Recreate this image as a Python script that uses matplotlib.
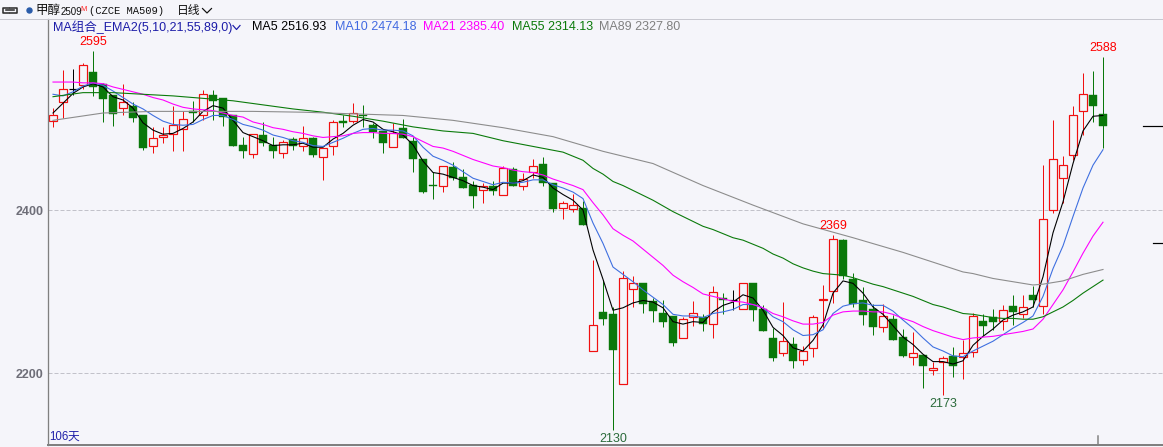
import matplotlib
matplotlib.use("Agg")
import matplotlib.pyplot as plt
import matplotlib.transforms as mtrans
from matplotlib.patches import Rectangle
from matplotlib.lines import Line2D

plt.rcParams['lines.scale_dashes'] = False

# daily bars (106 bars)
opens = [2509, 2532, 2548, 2553, 2569, 2555, 2541, 2525, 2527, 2517,
         2478, 2490, 2493, 2499, 2521, 2516, 2541, 2537, 2517, 2480,
         2469, 2492, 2480, 2470, 2487, 2478, 2488, 2465, 2478, 2509,
         2509, 2517, 2504, 2497, 2477, 2500, 2485, 2463, 2431, 2429,
         2453, 2440, 2431, 2425, 2429, 2419, 2450, 2430, 2447, 2456,
         2433, 2402, 2401, 2402, 2227, 2275, 2272, 2187, 2303, 2311,
         2288, 2274, 2270, 2243, 2269, 2269, 2260, 2292, 2290, 2279,
         2310, 2279, 2243, 2224, 2236, 2216, 2231, 2289, 2301, 2363,
         2315, 2290, 2278, 2256, 2266, 2244, 2220, 2222, 2204, 2214,
         2221, 2220, 2226, 2264, 2269, 2264, 2282, 2273, 2296, 2282,
         2400, 2439, 2468, 2522, 2541, 2518]
highs = [2525, 2572, 2573, 2580, 2595, 2556, 2541, 2555, 2533, 2517,
         2502, 2502, 2527, 2522, 2534, 2547, 2547, 2537, 2517, 2490,
         2493, 2508, 2490, 2486, 2490, 2503, 2490, 2476, 2510, 2517,
         2531, 2529, 2507, 2497, 2507, 2512, 2490, 2463, 2447, 2454,
         2459, 2450, 2435, 2433, 2435, 2454, 2453, 2445, 2462, 2465,
         2433, 2411, 2420, 2411, 2339, 2314, 2281, 2325, 2319, 2311,
         2292, 2290, 2270, 2269, 2288, 2272, 2307, 2298, 2302, 2311,
         2310, 2283, 2255, 2287, 2244, 2233, 2271, 2308, 2369, 2364,
         2323, 2305, 2285, 2285, 2271, 2254, 2250, 2222, 2214, 2221,
         2232, 2240, 2274, 2273, 2279, 2283, 2296, 2296, 2307, 2455,
         2510, 2466, 2527, 2568, 2571, 2588]
lows = [2502, 2513, 2541, 2548, 2540, 2508, 2503, 2517, 2508, 2474,
        2470, 2482, 2472, 2472, 2508, 2510, 2510, 2503, 2478, 2464,
        2464, 2478, 2464, 2464, 2474, 2472, 2465, 2437, 2467, 2502,
        2507, 2502, 2488, 2470, 2477, 2488, 2447, 2421, 2414, 2422,
        2437, 2427, 2402, 2409, 2419, 2419, 2430, 2424, 2439, 2429,
        2397, 2389, 2398, 2382, 2227, 2259, 2130, 2187, 2281, 2274,
        2263, 2257, 2233, 2243, 2258, 2252, 2243, 2273, 2277, 2279,
        2264, 2251, 2215, 2221, 2206, 2210, 2220, 2255, 2286, 2315,
        2281, 2259, 2247, 2250, 2240, 2220, 2210, 2181, 2197, 2173,
        2195, 2193, 2220, 2245, 2253, 2253, 2259, 2267, 2281, 2273,
        2396, 2408, 2461, 2492, 2508, 2476]
closes = [2517, 2548, 2548, 2578, 2551, 2536, 2518, 2532, 2513, 2476,
          2488, 2492, 2504, 2512, 2519, 2542, 2534, 2514, 2478, 2472,
          2493, 2482, 2472, 2483, 2478, 2488, 2467, 2476, 2508, 2507,
          2519, 2515, 2496, 2482, 2495, 2488, 2462, 2422, 2429, 2454,
          2439, 2427, 2417, 2429, 2423, 2452, 2430, 2438, 2454, 2433,
          2401, 2408, 2406, 2382, 2259, 2266, 2228, 2317, 2310, 2285,
          2276, 2262, 2237, 2266, 2274, 2260, 2300, 2289, 2290, 2310,
          2277, 2251, 2219, 2239, 2215, 2227, 2269, 2291, 2365, 2319,
          2285, 2271, 2256, 2270, 2240, 2221, 2224, 2208, 2206, 2218,
          2208, 2225, 2270, 2258, 2263, 2277, 2275, 2281, 2290, 2389,
          2463, 2455, 2517, 2542, 2528, 2503]

# MA lines, one value per bar (MA55/MA89 sparse where the window runs off the left)
ma5 = [2519, 2531, 2543, 2551, 2555, 2551, 2539, 2535, 2525, 2507,
       2498, 2493, 2494, 2500, 2508, 2521, 2528, 2525, 2510, 2495,
       2490, 2485, 2479, 2480, 2480, 2482, 2477, 2477, 2487, 2494,
       2504, 2511, 2508, 2499, 2496, 2492, 2480, 2460, 2446, 2444,
       2440, 2436, 2430, 2428, 2425, 2433, 2433, 2436, 2443, 2440,
       2427, 2419, 2412, 2400, 2351, 2315, 2277, 2280, 2286, 2289,
       2287, 2280, 2263, 2260, 2263, 2262, 2275, 2283, 2287, 2296,
       2292, 2277, 2256, 2246, 2231, 2227, 2240, 2259, 2298, 2313,
       2310, 2298, 2281, 2272, 2258, 2244, 2235, 2223, 2214, 2214,
       2211, 2215, 2234, 2245, 2254, 2265, 2271, 2275, 2281, 2318,
       2372, 2410, 2457, 2497, 2515, 2516]
ma10 = [2542, 2540, 2545, 2552, 2556, 2553, 2546, 2538, 2530, 2524,
        2516, 2509, 2505, 2504, 2505, 2511, 2516, 2516, 2511, 2505,
        2502, 2498, 2492, 2489, 2485, 2483, 2479, 2478, 2483, 2488,
        2494, 2499, 2500, 2498, 2498, 2497, 2491, 2477, 2466, 2461,
        2455, 2447, 2439, 2435, 2431, 2434, 2433, 2434, 2437, 2437,
        2431, 2427, 2422, 2414, 2384, 2359, 2330, 2321, 2312, 2302,
        2293, 2284, 2272, 2270, 2270, 2268, 2273, 2275, 2278, 2284,
        2284, 2280, 2269, 2263, 2253, 2246, 2247, 2253, 2273, 2282,
        2285, 2286, 2283, 2283, 2276, 2265, 2255, 2243, 2232, 2227,
        2221, 2220, 2227, 2233, 2239, 2247, 2255, 2262, 2270, 2294,
        2328, 2356, 2392, 2427, 2455, 2474]
ma21 = [2557, 2557, 2557, 2556, 2556, 2555, 2551, 2548, 2545, 2542,
        2538, 2535, 2530, 2526, 2524, 2523, 2522, 2519, 2516, 2514,
        2508, 2505, 2501, 2499, 2496, 2494, 2491, 2489, 2490, 2491,
        2494, 2495, 2495, 2494, 2494, 2493, 2490, 2484, 2478, 2476,
        2472, 2467, 2462, 2458, 2454, 2452, 2449, 2447, 2446, 2443,
        2438, 2434, 2430, 2425, 2409, 2394, 2377, 2369, 2362, 2352,
        2342, 2332, 2320, 2312, 2305, 2297, 2294, 2291, 2288, 2287,
        2284, 2280, 2273, 2269, 2264, 2260, 2260, 2262, 2271, 2275,
        2276, 2276, 2275, 2275, 2272, 2267, 2263, 2257, 2252, 2248,
        2244, 2241, 2243, 2244, 2245, 2247, 2249, 2251, 2254, 2266,
        2284, 2302, 2324, 2347, 2368, 2385]
ma55_idx = [0, 3, 6, 9, 12, 15, 18, 21, 24, 27, 30, 33, 36, 39, 42, 45, 48, 51, 53] + list(range(54, 106))
ma55 = [2539, 2544, 2544, 2542, 2540, 2537, 2534, 2529, 2524, 2520,
        2515, 2509, 2502, 2497, 2494, 2485, 2478, 2471, 2461,
        2451, 2444, 2435, 2430, 2424, 2418, 2412, 2405, 2398, 2392,
        2386, 2380, 2376, 2371, 2366, 2363, 2358, 2353, 2346, 2341,
        2334, 2329, 2325, 2322, 2321, 2320, 2317, 2313, 2309, 2306,
        2302, 2298, 2294, 2289, 2284, 2281, 2277, 2273, 2272, 2270,
        2268, 2267, 2267, 2266, 2266, 2269, 2275, 2281, 2289, 2298,
        2306, 2314]
ma89_idx = [0, 5, 10, 15, 20, 25, 30, 35, 40, 45, 50, 55, 60, 65, 70, 75, 80, 85, 87] + list(range(88, 106))
ma89 = [2510, 2519, 2521, 2521, 2521, 2520, 2518, 2516, 2510, 2501,
        2490, 2472, 2457, 2430, 2406, 2383, 2366, 2348, 2340,
        2336, 2332, 2328, 2324, 2322, 2319, 2316, 2314, 2312, 2310,
        2308, 2309, 2311, 2313, 2317, 2321, 2324, 2327]

ma_colors = ['#000000', '#3e6fe0', '#ff00ff', '#0a7a0a', '#8c8c8c']
ma_text_colors = ['#000000', '#4169e1', '#ff00ff', '#0a7a0a', '#808080']
ma_texts = ['MA5 2516.93', 'MA10 2474.18', 'MA21 2385.40', 'MA55 2314.13', 'MA89 2327.80']

peak_marks = [(4, 2595), (78, 2369), (105, 2588)]
trough_marks = [(56, 2130), (89, 2173)]

bg = '#f5f5fa'
red = '#f01010'
green = '#0a780a'
PX = 0.72   # one pixel in points

fig = plt.figure(figsize=(11.63, 4.47), dpi=100, facecolor=bg)
ax = fig.add_axes([48 / 1163, 2 / 447, 1115 / 1163, 425.5 / 447], facecolor=bg)
ax.set_xlim(-0.5, 111)
ax.set_ylim(2111.66, 2633.74)

for v in [2400, 2200]:
    ax.axhline(v, color='#c2c2ca', lw=PX, dashes=(4 * PX, 2 * PX), zorder=0)

for i in range(len(closes)):
    o, h, l, c = opens[i], highs[i], lows[i], closes[i]
    if c > o:
        ax.vlines(i, l, h, color=red, lw=PX, zorder=2)
        ax.add_patch(Rectangle((i - 0.37, o), 0.74, c - o, facecolor=bg,
                               edgecolor=red, lw=PX * 1.2, zorder=2.1))
    elif c < o:
        ax.vlines(i, l, h, color=green, lw=PX, zorder=2)
        ax.add_patch(Rectangle((i - 0.44, c), 0.88, o - c, facecolor=green,
                               edgecolor=green, lw=0.3, zorder=2.1))
    else:
        ax.vlines(i, l, h, color='black', lw=PX, zorder=2)
        ax.hlines(c, i - 0.42, i + 0.42, color='black', lw=PX * 1.2, zorder=2.1)

n = len(closes)
lines = [(list(range(n)), ma5), (list(range(n)), ma10), (list(range(n)), ma21),
         (ma55_idx, ma55), (ma89_idx, ma89)]
for (xs, ys), col in zip(lines, ma_colors):
    ax.plot(xs, ys, color=col, lw=PX * 1.1, zorder=3)

for i, v in peak_marks:
    ax.annotate(str(v), (i, v), xytext=(0, 3), textcoords='offset pixels',
                ha='center', va='bottom', color='#ff0000', fontsize=9,
                family='Liberation Sans', zorder=5)
for i, v in trough_marks:
    ax.annotate(str(v), (i, v), xytext=(0, -3), textcoords='offset pixels',
                ha='center', va='top', color='#2a6a3a', fontsize=9,
                family='Liberation Sans', zorder=5)

ax.set_yticks([2400, 2200])
ax.set_yticklabels(['2400', '2200'], color='#6e6e78', fontsize=9,
                   family='Liberation Sans', fontweight='bold')
ax.tick_params(axis='y', length=0, pad=3)
ax.set_xticks([])
for s in ['top', 'right']:
    ax.spines[s].set_visible(False)
ax.spines['left'].set_color('#808080')
ax.spines['left'].set_linewidth(PX * 1.3)
ax.spines['bottom'].set_color('#808080')
ax.spines['bottom'].set_linewidth(PX * 2)

# right edge price markers and bottom tick
tr_r = mtrans.blended_transform_factory(ax.transAxes, ax.transData)
ax.plot([1 - 20 / 1115, 1], [2503, 2503], color='black', lw=PX * 1.2, transform=tr_r, clip_on=False)
ax.plot([1 - 10 / 1115, 1], [2360, 2360], color='black', lw=PX * 1.2, transform=tr_r, clip_on=False)
tr_b = mtrans.blended_transform_factory(ax.transData, ax.transAxes)
ax.plot([104.5, 104.5], [0, 9 / 425], color='#808080', lw=PX * 1.5, transform=tr_b, clip_on=False)


def fx(x):
    return x / 1163


def fy(y):
    return 1 - y / 447


def fline(xs, ys, **kw):
    fig.add_artist(Line2D([fx(x) for x in xs], [fy(y) for y in ys], **kw))


cjk = ['Noto Sans CJK SC', 'DejaVu Sans']
lat = ['Liberation Sans', 'Noto Sans CJK SC']

# header bar
fline([0, 1163], [19, 19], color='#c8c8d0', lw=PX)
fline([9, 2.5, 2.5, 9], [7.8, 7.8, 12.8, 12.8], color='#303030', lw=PX * 1.6)
fline([10, 16.5, 16.5, 10], [7.8, 7.8, 12.8, 12.8], color='#303030', lw=PX * 1.6)
fline([5.5, 13.5], [10.3, 10.3], color='#303030', lw=PX * 1.6)
fline([29.3], [10.3], marker='o', markersize=3.6, color='#2a5caa', lw=0)
fig.text(fx(35), fy(10.7), '甲醇', family=cjk, fontsize=9, color='#101010', va='center')
fig.text(fx(60.5), fy(15), '2509', family=lat, fontsize=7, color='#101010', va='baseline')
fig.text(fx(80.5), fy(11), 'M', family=lat, fontsize=5.5, color='#ff2020', va='baseline')
fig.text(fx(89.3), fy(10.8), '(CZCE MA509)', family='Liberation Mono', fontsize=7.6,
         color='#101010', va='center')
fig.text(fx(176.7), fy(10.5), '日线', family=cjk, fontsize=8.5, color='#101010', va='center')
fline([202.5, 207, 211.5], [8.5, 13, 8.5], color='#101010', lw=PX * 1.2)

# indicator legend row
fig.text(fx(53.3), fy(26.7), 'MA组合_EMA2(5,10,21,55,89,0)', family=lat, fontsize=9,
         color='#1c1ca8', va='center')
fline([233, 236.5, 240], [25.5, 29.5, 25.5], color='#1c1ca8', lw=PX * 1.2)
for xt, txt, col in zip([252, 335, 423, 512, 599], ma_texts, ma_text_colors):
    fig.text(fx(xt), fy(26.7), txt, family=lat, fontsize=9, color=col, va='center')

fig.text(fx(49), fy(436.5), '106', family=lat, fontsize=8.3, color='#2222aa', va='center')
fig.text(fx(68), fy(436.5), '天', family=cjk, fontsize=8.5, color='#2222aa', va='center')

fig.savefig('out.png', dpi=100, facecolor=bg)
